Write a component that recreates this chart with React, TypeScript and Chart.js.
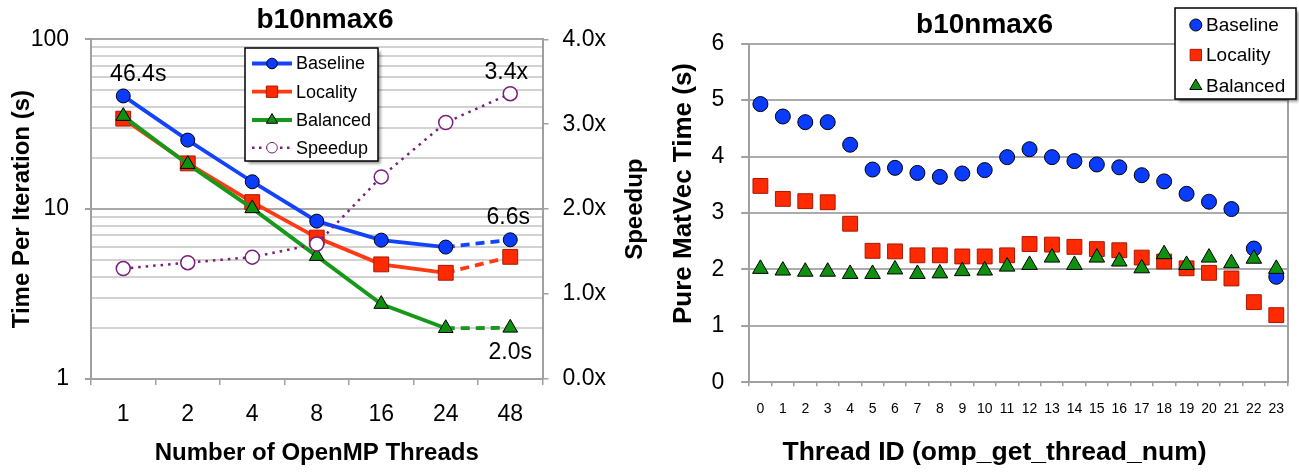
import React, { useEffect, useRef } from 'react';
import { Chart, registerables } from 'chart.js';

Chart.register(...registerables);

// ---------- Data: left chart (time per iteration vs threads) ----------
const threadCounts = ['1', '2', '4', '8', '16', '24', '48'];
const baselineTime = [46.4, 25.5, 14.5, 8.5, 6.57, 5.98, 6.6];
const localityTime = [34.1, 18.6, 11.0, 6.8, 4.73, 4.22, 5.24];
const balancedTime = [35.3, 18.4, 10.1, 5.29, 2.76, 1.99, 2.0];
const speedupValues = [1.3, 1.37, 1.435, 1.59, 2.38, 3.02, 3.36];
const timeTickLabels = [1, 10, 100];
const speedupTickLabels = [0, 1, 2, 3, 4];
const calloutTexts = ['46.4s', '3.4x', '6.6s', '2.0s'];

// ---------- Data: right chart (per-thread MatVec time) ----------
const threadIds = ['0', '1', '2', '3', '4', '5', '6', '7', '8', '9', '10', '11', '12', '13', '14', '15', '16', '17', '18', '19', '20', '21', '22', '23'];
const baselineMatVec = [4.93, 4.71, 4.61, 4.61, 4.21, 3.77, 3.8, 3.71, 3.64, 3.7, 3.76, 3.99, 4.13, 3.99, 3.92, 3.86, 3.81, 3.67, 3.56, 3.34, 3.2, 3.07, 2.37, 1.87];
const localityMatVec = [3.48, 3.25, 3.21, 3.19, 2.81, 2.33, 2.32, 2.25, 2.25, 2.23, 2.23, 2.25, 2.45, 2.44, 2.4, 2.36, 2.34, 2.21, 2.14, 2.02, 1.94, 1.84, 1.42, 1.19];
const balancedMatVec = [2.01, 1.98, 1.96, 1.96, 1.92, 1.92, 2.0, 1.92, 1.93, 1.97, 1.98, 2.05, 2.08, 2.21, 2.08, 2.21, 2.14, 2.02, 2.27, 2.08, 2.21, 2.11, 2.19, 2.01];
const matVecTickLabels = [0, 1, 2, 3, 4, 5, 6];

// ---------- Styles ----------
const FONT = "'Liberation Sans', Arial, Helvetica, sans-serif";
const BLUE = '#0a3cff';
const BLUE_LINE = '#1443ff';
const RED = '#ff2a00';
const RED_EDGE = '#a81800';
const RED_LINE = '#ff3a14';
const GREEN = '#0f910f';
const GREEN_LINE = '#16981a';
const PURPLE = '#7a1f7c';
const AXIS_GRAY = '#a0a0a0';

Chart.defaults.font.family = FONT;
Chart.defaults.color = '#000';

type Marker = 'circle' | 'rect' | 'triangle';

function drawMarker(ctx: CanvasRenderingContext2D, style: Marker, x: number, y: number, r: number, fill: string, stroke: string, lw: number) {
  ctx.beginPath();
  if (style === 'circle') {
    ctx.arc(x, y, r, 0, Math.PI * 2);
  } else if (style === 'rect') {
    const s = r * Math.SQRT1_2;
    ctx.rect(x - s, y - s, 2 * s, 2 * s);
  } else {
    const w = r * Math.sin((2 * Math.PI) / 3);
    ctx.moveTo(x, y - r);
    ctx.lineTo(x + w, y + r / 2);
    ctx.lineTo(x - w, y + r / 2);
    ctx.closePath();
  }
  ctx.fillStyle = fill;
  ctx.fill();
  ctx.lineWidth = lw;
  ctx.strokeStyle = stroke;
  ctx.stroke();
}

interface LegendItem {
  text: string;
  marker: Marker;
  r: number;
  fill: string;
  stroke: string;
  line?: string;
  lineWidth?: number;
  dash?: number[];
}

interface LegendBox {
  x: number; y: number; w: number; h: number;
  lineX1?: number; lineX2?: number; markerX: number; textX: number;
  rows: number[]; fontSize: number;
}

function legendPlugin(id: string, items: LegendItem[], box: LegendBox) {
  return {
    id,
    afterDraw(chart: Chart) {
      const ctx = chart.ctx;
      ctx.save();
      ctx.shadowColor = 'rgba(0,0,0,0.45)';
      ctx.shadowBlur = 3;
      ctx.shadowOffsetX = 2.5;
      ctx.shadowOffsetY = 2.5;
      ctx.fillStyle = '#fff';
      ctx.fillRect(box.x, box.y, box.w, box.h);
      ctx.restore();
      ctx.save();
      ctx.strokeStyle = '#000';
      ctx.lineWidth = 1.5;
      ctx.strokeRect(box.x, box.y, box.w, box.h);
      items.forEach((it, i) => {
        const y = box.rows[i];
        if (it.line && box.lineX1 !== undefined && box.lineX2 !== undefined) {
          ctx.save();
          ctx.beginPath();
          ctx.strokeStyle = it.line;
          ctx.lineWidth = it.lineWidth || 3;
          ctx.setLineDash(it.dash || []);
          ctx.moveTo(box.lineX1, y);
          ctx.lineTo(box.lineX2, y);
          ctx.stroke();
          ctx.restore();
        }
        drawMarker(ctx, it.marker, box.markerX, y, it.r, it.fill, it.stroke, 1);
        ctx.fillStyle = '#000';
        ctx.font = `${box.fontSize}px ${FONT}`;
        ctx.textAlign = 'left';
        ctx.textBaseline = 'middle';
        ctx.fillText(it.text, box.textX, y + 1);
      });
      ctx.restore();
    },
  };
}

interface TextItem { text: string; x: number; y: number; font: string; rot?: number; }

function textPlugin(id: string, items: (chart: Chart) => TextItem[]) {
  return {
    id,
    afterDraw(chart: Chart) {
      const ctx = chart.ctx;
      items(chart).forEach((it) => {
        ctx.save();
        ctx.font = it.font;
        ctx.fillStyle = '#000';
        ctx.textAlign = 'center';
        ctx.textBaseline = 'middle';
        ctx.translate(it.x, it.y);
        if (it.rot) ctx.rotate(it.rot);
        ctx.fillText(it.text, 0, 0);
        ctx.restore();
      });
    },
  };
}

const isDecade = (v: number) => timeTickLabels.includes(v);
const DASH_FROM = threadCounts.indexOf('24');
const dashLast = (ctx: any) => (ctx.p0DataIndex === DASH_FROM ? [9, 6] : undefined);

function leftConfig(): any {
  return {
    type: 'line',
    data: {
      labels: threadCounts,
      datasets: [
        {
          label: 'Baseline', data: baselineTime, yAxisID: 'y', order: 3,
          borderColor: BLUE_LINE, backgroundColor: BLUE, borderWidth: 3.8,
          pointStyle: 'circle', pointRadius: 7, pointBackgroundColor: BLUE,
          pointBorderColor: '#000', pointBorderWidth: 1, segment: { borderDash: dashLast },
        },
        {
          label: 'Locality', data: localityTime, yAxisID: 'y', order: 2,
          borderColor: RED_LINE, backgroundColor: RED, borderWidth: 3.8,
          pointStyle: 'rect', pointRadius: 10.5, pointBackgroundColor: RED,
          pointBorderColor: RED_EDGE, pointBorderWidth: 1, segment: { borderDash: dashLast },
        },
        {
          label: 'Balanced', data: balancedTime, yAxisID: 'y', order: 1,
          borderColor: GREEN_LINE, backgroundColor: GREEN, borderWidth: 3.8,
          pointStyle: 'triangle', pointRadius: 8.5, pointBackgroundColor: GREEN,
          pointBorderColor: '#000', pointBorderWidth: 1, segment: { borderDash: dashLast },
        },
        {
          label: 'Speedup', data: speedupValues, yAxisID: 'y1', order: 0,
          borderColor: PURPLE, backgroundColor: '#fff', borderWidth: 2.5, borderDash: [2.5, 5],
          pointStyle: 'circle', pointRadius: 7, pointBackgroundColor: '#fff',
          pointBorderColor: PURPLE, pointBorderWidth: 1.5,
        },
      ],
    },
    options: {
      responsive: false,
      animation: false,
      events: [],
      layout: { padding: { left: 0, right: 0, top: 0, bottom: 0 } },
      plugins: {
        legend: { display: false },
        tooltip: { enabled: false },
        title: {
          display: true, text: 'b10nmax6', color: '#000',
          font: { family: FONT, size: 28, weight: 'bold', lineHeight: 1.2 },
          padding: { top: 3, bottom: 2.7 },
        },
      },
      scales: {
        x: {
          type: 'category', offset: true,
          grid: { offset: true, drawOnChartArea: false, tickLength: 6, color: AXIS_GRAY, lineWidth: 1.5 },
          border: { color: AXIS_GRAY, width: 2 },
          ticks: { font: { family: FONT, size: 23 }, color: '#000', padding: 16, maxRotation: 0, autoSkip: false },
          title: {
            display: true, text: 'Number of OpenMP Threads', color: '#000',
            font: { family: FONT, size: 24, weight: 'bold', lineHeight: 1.2 },
            padding: { top: 0, bottom: 4 },
          },
          afterFit: (s: any) => { s.height = 93; },
        },
        y: {
          type: 'logarithmic', position: 'left', min: 1, max: 100,
          afterBuildTicks: (s: any) => {
            const t: { value: number }[] = [];
            for (let d = 0; d < timeTickLabels.length - 1; d++) {
              for (let m = 1; m < 10; m++) t.push({ value: timeTickLabels[d] * m });
            }
            t.push({ value: timeTickLabels[timeTickLabels.length - 1] });
            s.ticks = t;
          },
          ticks: {
            autoSkip: false, font: { family: FONT, size: 23 }, color: '#000', padding: 16,
            callback: (v: number) => (isDecade(v) ? String(v) : ''),
          },
          grid: {
            color: (c: any) => (c.tick && isDecade(c.tick.value) ? '#a8a8a8' : '#d2d2d2'),
            lineWidth: 2,
            tickLength: 6,
            tickColor: (c: any) => (c.tick && isDecade(c.tick.value) ? AXIS_GRAY : 'rgba(0,0,0,0)'),
          },
          border: { color: AXIS_GRAY, width: 2 },
          title: {
            display: true, text: 'Time Per Iteration (s)', color: '#000',
            font: { family: FONT, size: 24, weight: 'bold', lineHeight: 1.2 },
            padding: { top: 8, bottom: 0 },
          },
          afterFit: (s: any) => { s.width = 91; },
        },
        y1: {
          type: 'linear', position: 'right', min: 0, max: 4,
          ticks: {
            stepSize: 1, font: { family: FONT, size: 23 }, color: '#000', padding: 14,
            callback: (v: number) => (speedupTickLabels.includes(v) ? v.toFixed(1) + 'x' : ''),
          },
          grid: { drawOnChartArea: false, tickLength: 6, color: AXIS_GRAY, lineWidth: 1.5 },
          border: { color: AXIS_GRAY, width: 2 },
          afterFit: (s: any) => { s.width = 107.5; },
        },
      },
    },
    plugins: [
      textPlugin('leftTexts', (chart: Chart) => {
        const ca = chart.chartArea;
        const pt = (ds: number, i: number) => chart.getDatasetMeta(ds).data[i] as any;
        const last = threadCounts.length - 1;
        const f23 = `23px ${FONT}`;
        return [
          { text: 'Speedup', x: ca.right + 93, y: (ca.top + ca.bottom) / 2, font: `bold 24px ${FONT}`, rot: -Math.PI / 2 },
          { text: calloutTexts[0], x: pt(0, 0).x + 15, y: pt(0, 0).y - 21, font: f23 },
          { text: calloutTexts[1], x: pt(3, last).x - 4, y: pt(3, last).y - 21, font: f23 },
          { text: calloutTexts[2], x: pt(0, last).x - 2, y: pt(0, last).y - 22, font: f23 },
          { text: calloutTexts[3], x: pt(2, last).x, y: pt(2, last).y + 25, font: f23 },
        ];
      }),
      legendPlugin(
        'leftLegend',
        [
          { text: 'Baseline', marker: 'circle', r: 5.3, fill: BLUE, stroke: '#000', line: BLUE_LINE, lineWidth: 3.8 },
          { text: 'Locality', marker: 'rect', r: 8, fill: RED, stroke: RED_EDGE, line: RED_LINE, lineWidth: 3.8 },
          { text: 'Balanced', marker: 'triangle', r: 6.5, fill: GREEN, stroke: '#000', line: GREEN_LINE, lineWidth: 3.8 },
          { text: 'Speedup', marker: 'circle', r: 5.3, fill: '#fff', stroke: PURPLE, line: PURPLE, lineWidth: 2.5, dash: [2.5, 4.5] },
        ],
        { x: 245, y: 48, w: 133, h: 113, lineX1: 252, lineX2: 292, markerX: 272, textX: 296, rows: [63.5, 91.7, 120, 147.7], fontSize: 18 }
      ),
    ],
  };
}

function rightConfig(): any {
  return {
    type: 'line',
    data: {
      labels: threadIds,
      datasets: [
        {
          label: 'Baseline', data: baselineMatVec, showLine: false, order: 3,
          pointStyle: 'circle', pointRadius: 7.5, pointBackgroundColor: BLUE,
          pointBorderColor: '#000', pointBorderWidth: 1, borderColor: BLUE, backgroundColor: BLUE,
        },
        {
          label: 'Locality', data: localityMatVec, showLine: false, order: 2,
          pointStyle: 'rect', pointRadius: 10.5, pointBackgroundColor: RED,
          pointBorderColor: RED_EDGE, pointBorderWidth: 1, borderColor: RED, backgroundColor: RED,
        },
        {
          label: 'Balanced', data: balancedMatVec, showLine: false, order: 1,
          pointStyle: 'triangle', pointRadius: 9, pointBackgroundColor: GREEN,
          pointBorderColor: '#000', pointBorderWidth: 1, borderColor: GREEN, backgroundColor: GREEN,
        },
      ],
    },
    options: {
      responsive: false,
      animation: false,
      events: [],
      layout: { padding: { left: 0, right: 11.5, top: 43.7, bottom: 0 } },
      plugins: {
        legend: { display: false },
        tooltip: { enabled: false },
        title: { display: false },
      },
      scales: {
        x: {
          type: 'category', offset: true,
          grid: { offset: true, drawOnChartArea: false, tickLength: 4, color: AXIS_GRAY, lineWidth: 1.5 },
          border: { color: AXIS_GRAY, width: 2 },
          ticks: { font: { family: FONT, size: 14 }, color: '#000', padding: 14.3, maxRotation: 0, autoSkip: false },
          afterFit: (s: any) => { s.height = 89.7; },
        },
        y: {
          type: 'linear', position: 'left', min: 0, max: 6,
          ticks: {
            stepSize: 1, font: { family: FONT, size: 23 }, color: '#000', padding: 17,
            callback: (v: number) => (matVecTickLabels.includes(v) ? String(v) : ''),
          },
          grid: { color: '#ababab', lineWidth: 2, tickLength: 8, tickColor: AXIS_GRAY },
          border: { color: AXIS_GRAY, width: 2 },
          afterFit: (s: any) => { s.width = 99.2; },
        },
        yEdge: {
          type: 'linear', position: 'right', display: true,
          ticks: { display: false },
          grid: { drawOnChartArea: false, drawTicks: false },
          border: { color: AXIS_GRAY, width: 2 },
          afterFit: (s: any) => { s.width = 0; },
        },
      },
    },
    plugins: [
      textPlugin('rightTexts', () => [
        { text: 'b10nmax6', x: 334.6, y: 25, font: `bold 28px ${FONT}` },
        { text: 'Thread ID (omp_get_thread_num)', x: 344.5, y: 453, font: `bold 26.5px ${FONT}` },
        { text: 'Pure MatVec Time (s)', x: 33.6, y: 193.5, font: `bold 26px ${FONT}`, rot: -Math.PI / 2 },
      ]),
      legendPlugin(
        'rightLegend',
        [
          { text: 'Baseline', marker: 'circle', r: 6, fill: BLUE, stroke: '#000' },
          { text: 'Locality', marker: 'rect', r: 8, fill: RED, stroke: RED_EDGE },
          { text: 'Balanced', marker: 'triangle', r: 7, fill: GREEN, stroke: '#000' },
        ],
        { x: 525, y: 8, w: 121, h: 91, markerX: 545.8, textX: 556, rows: [25, 55, 86], fontSize: 19 }
      ),
    ],
  };
}

function ChartCanvas({ make, left, width }: { make: () => any; left: number; width: number }) {
  const ref = useRef<HTMLCanvasElement>(null);
  useEffect(() => {
    if (!ref.current) return;
    const chart = new Chart(ref.current, make());
    return () => chart.destroy();
  }, []);
  return (
    <canvas
      ref={ref}
      width={width}
      height={472}
      style={{ position: 'absolute', left, top: 0, width, height: 472 }}
    />
  );
}

export default function App() {
  return (
    <div style={{ position: 'absolute', left: 0, top: 0, width: 1299, height: 472, background: '#fff', overflow: 'hidden' }}>
      <ChartCanvas make={leftConfig} left={0} width={650} />
      <ChartCanvas make={rightConfig} left={650} width={649} />
    </div>
  );
}
